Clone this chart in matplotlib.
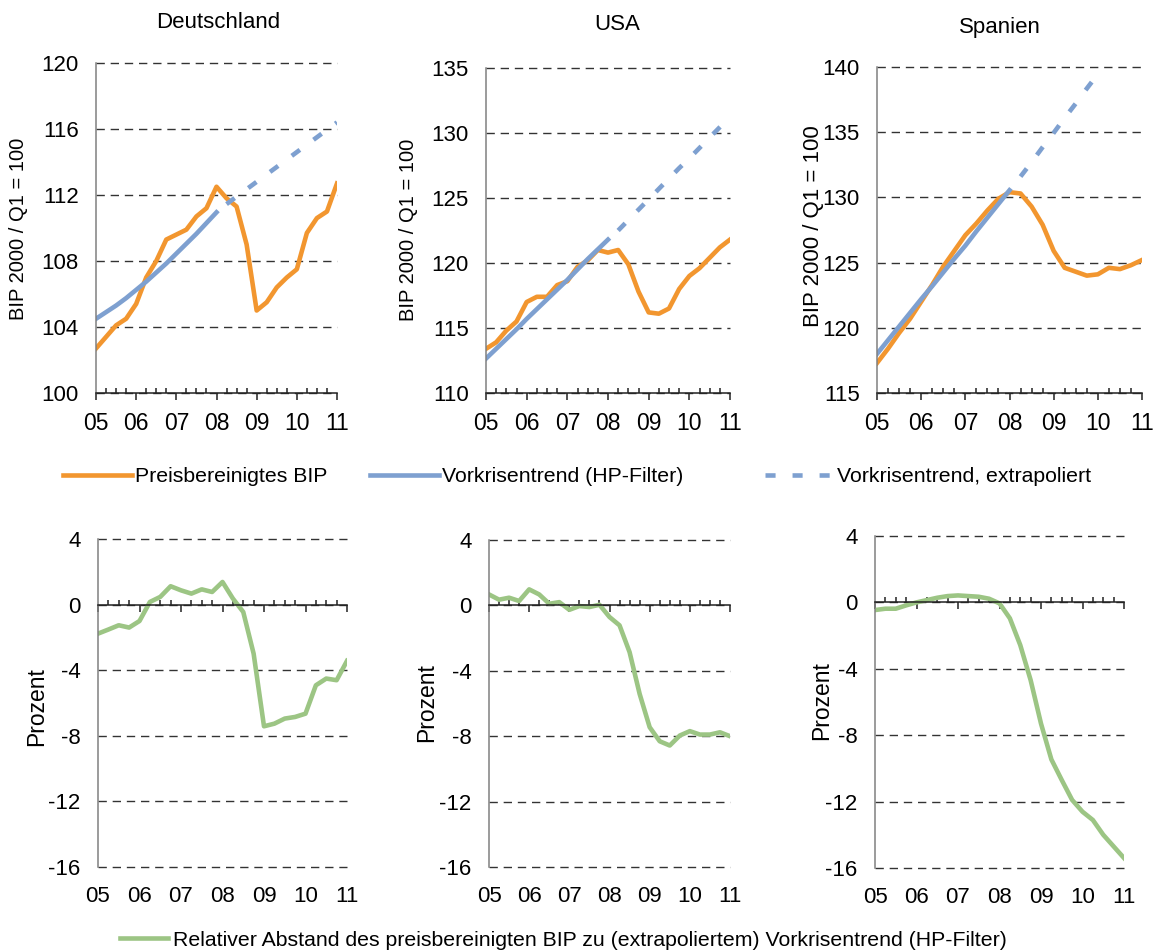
#!/usr/bin/env python3
"""BIP, Vorkrisentrend und relativer Abstand: Deutschland, USA, Spanien."""

import numpy as np
import matplotlib
matplotlib.use("Agg")
import matplotlib.pyplot as plt

plt.rcParams['font.family'] = ['Liberation Sans', 'DejaVu Sans']
plt.rcParams['axes.unicode_minus'] = False

W, H = 1160, 950

# Quartale 2005Q1 .. 2011Q1
quarters = np.arange(25)
year_ticks = np.arange(0, 25, 4)
year_labels = ['05', '06', '07', '08', '09', '10', '11']
minor_ticks = [q for q in quarters if q % 4 != 0]

countries = ['Deutschland', 'USA', 'Spanien']

# Preisbereinigtes BIP (2000/Q1 = 100)
de_bip = [102.7, 103.4, 104.1, 104.5, 105.4, 107.0, 108.0, 109.3, 109.6,
          109.9, 110.7, 111.2, 112.5, 111.8, 111.3, 109.0, 105.0, 105.5,
          106.4, 107.0, 107.5, 109.7, 110.6, 111.0, 112.7]
us_bip = [113.4, 113.9, 114.8, 115.5, 117.0, 117.4, 117.4, 118.3, 118.6,
          119.7, 120.2, 121.0, 120.8, 121.0, 119.9, 117.8, 116.2, 116.1,
          116.5, 118.0, 119.0, 119.6, 120.4, 121.2, 121.8]
es_bip = [117.3, 118.4, 119.6, 120.7, 122.0, 123.3, 124.7, 125.9, 127.1,
          128.0, 129.0, 129.9, 130.4, 130.3, 129.3, 127.9, 125.9, 124.6,
          124.3, 124.0, 124.1, 124.6, 124.5, 124.8, 125.2]

# Vorkrisentrend (HP-Filter), 2005Q1 .. 2008Q1
de_trend = [104.5, 104.9, 105.3, 105.75, 106.25, 106.75, 107.3, 107.85,
            108.45, 109.05, 109.65, 110.3, 110.95]
us_trend = [112.65, 113.4, 114.15, 114.9, 115.7, 116.45, 117.2, 117.95,
            118.7, 119.5, 120.3, 121.05, 121.8]
es_trend = [118.0, 119.05, 120.1, 121.15, 122.2, 123.2, 124.25, 125.3,
            126.3, 127.4, 128.45, 129.5, 130.55]

# Vorkrisentrend, extrapoliert, ab 2008Q2
de_extra = [111.45, 111.9, 112.35, 112.8, 113.25, 113.7, 114.15, 114.6,
            115.05, 115.5, 115.95, 116.4]
us_extra = [122.5, 123.3, 124.1, 124.9, 125.7, 126.5, 127.3, 128.05,
            128.85, 129.65, 130.45, 131.25]
es_extra = [131.6, 132.7, 133.85, 134.95, 136.1, 137.2, 138.35, 139.45]

# Relativer Abstand zum (extrapolierten) Vorkrisentrend, Prozent
de_gap = [-1.77, -1.52, -1.26, -1.4, -1.0, 0.16, 0.47, 1.12, 0.87, 0.67,
          0.93, 0.77, 1.38, 0.37, -0.45, -2.99, -7.42, -7.26, -6.95, -6.85,
          -6.65, -4.92, -4.51, -4.61, -3.43]
us_gap = [0.67, 0.35, 0.47, 0.27, 0.98, 0.67, 0.1, 0.2, -0.27, -0.04,
          -0.1, 0.04, -0.71, -1.22, -2.86, -5.41, -7.45, -8.31, -8.57,
          -7.96, -7.69, -7.9, -7.9, -7.76, -8.0]
es_gap = [-0.46, -0.38, -0.38, -0.18, 0.0, 0.14, 0.28, 0.38, 0.42, 0.38,
          0.34, 0.22, -0.06, -0.96, -2.57, -4.68, -7.3, -9.46, -10.7,
          -11.9, -12.61, -13.11, -14.0, -14.7, -15.4]

top_ylims = [(100, 120), (110, 135), (115, 140)]
top_yticks = [np.arange(100, 121, 4), np.arange(110, 136, 5),
              np.arange(115, 141, 5)]
gap_yticks = np.arange(-16, 5, 4)

ORANGE = '#F2962F'
BLUE = '#7EA0D0'
GREEN = '#9CC584'
LW = 3.3

# Pixelrahmen der Achsen: links, oben, rechts, unten
top_boxes = [(96, 63, 337, 393), (486, 68, 730, 393), (877, 67, 1142, 393)]
bottom_boxes = [(98, 539, 347, 867), (489, 540, 730, 867),
                (875, 536, 1124, 868)]


def px_rect(l, t, r, b):
    return [l / W, 1 - b / H, (r - l) / W, (b - t) / H]


def style_axis(ax, ylim, yticks):
    ax.set_xlim(0, 24)
    ax.set_ylim(ylim)
    ax.set_yticks(yticks)
    ax.spines['top'].set_visible(False)
    ax.spines['right'].set_visible(False)
    ax.spines['left'].set_color('#808080')
    ax.spines['left'].set_linewidth(1.1)
    ax.spines['bottom'].set_color('#222222')
    ax.spines['bottom'].set_linewidth(1.1)
    ax.set_xticks(year_ticks, labels=year_labels)
    ax.set_xticks(minor_ticks, minor=True)
    ax.tick_params(axis='x', which='major', direction='out', length=5,
                   width=1.1, color='#222222', pad=9, labelsize=16.5)
    ax.tick_params(axis='x', which='minor', direction='in', length=3.6,
                   width=1.1, color='#222222')
    ax.tick_params(axis='y', length=0, pad=12.5, labelsize=16)
    ax.yaxis.grid(True, color='#333333', linewidth=1.0,
                  linestyle=(0, (6, 4.2)))
    for g in ax.get_ygridlines():
        g.set_clip_on(False)
    ax.set_axisbelow(True)


fig = plt.figure(figsize=(W / 100, H / 100), dpi=100)

bips = [de_bip, us_bip, es_bip]
trends = [de_trend, us_trend, es_trend]
extras = [de_extra, us_extra, es_extra]
gaps = [de_gap, us_gap, es_gap]

handles = []
for i in range(3):
    ax = fig.add_axes(px_rect(*top_boxes[i]))
    style_axis(ax, top_ylims[i], top_yticks[i])
    l1, = ax.plot(quarters, bips[i], color=ORANGE, lw=LW)
    l2, = ax.plot(quarters[:len(trends[i])], trends[i], color=BLUE, lw=LW)
    l3, = ax.plot(quarters[13:13 + len(extras[i])], extras[i], color=BLUE,
                  lw=LW, dashes=(2.2, 3.7), dash_capstyle='butt')
    if i == 0:
        handles = [l1, l2, l3]

gap_line = None
for i in range(3):
    ax = fig.add_axes(px_rect(*bottom_boxes[i]))
    style_axis(ax, (-16, 4), gap_yticks)
    ax.spines['bottom'].set_position(('data', 0))
    ax.tick_params(axis='x', which='both', labelbottom=False)
    sec = ax.secondary_xaxis(0)
    sec.set_xticks(year_ticks, labels=year_labels)
    sec.tick_params(length=0, pad=14, labelsize=16)
    sec.spines['bottom'].set_visible(False)
    gl, = ax.plot(quarters, gaps[i], color=GREEN, lw=LW)
    gap_line = gl

# Titel
title_pos = [(218, 28), (617, 30), (1000, 32.5)]
for name, (x, y) in zip(countries, title_pos):
    fig.text(x / W, 1 - y / H, name, ha='center', va='baseline',
             fontsize=16)

# Achsenbeschriftungen
ylab_pos = [(19, 229, 14.5), (409, 230, 14.5), (813, 226, 16)]
for x, y, fs in ylab_pos:
    fig.text(x / W, 1 - y / H, 'BIP 2000 / Q1 = 100', rotation=90,
             ha='center', va='center', fontsize=fs)
proz_pos = [(37, 707), (427, 703), (822, 701)]
for x, y in proz_pos:
    fig.text(x / W, 1 - y / H, 'Prozent', rotation=90, ha='center',
             va='center', fontsize=16.5)

# Legenden
legend_labels = ['Preisbereinigtes BIP', 'Vorkrisentrend (HP-Filter)',
                 'Vorkrisentrend, extrapoliert']
legend_x = [63, 370, 765]
for h, lab, x in zip(handles, legend_labels, legend_x):
    fig.legend([h], [lab], loc='center left',
               bbox_to_anchor=(x / W, 1 - 477 / H), frameon=False,
               borderpad=0, borderaxespad=0, handlelength=3.25,
               handletextpad=0.15, fontsize=15.3)

fig.legend([gap_line],
           ['Relativer Abstand des preisbereinigten BIP zu '
            '(extrapoliertem) Vorkrisentrend (HP-Filter)'],
           loc='center left', bbox_to_anchor=(120 / W, 1 - 940 / H),
           frameon=False, borderpad=0, borderaxespad=0, handlelength=2.26,
           handletextpad=0.22, fontsize=15.3)

fig.savefig('out.png', dpi=100)
